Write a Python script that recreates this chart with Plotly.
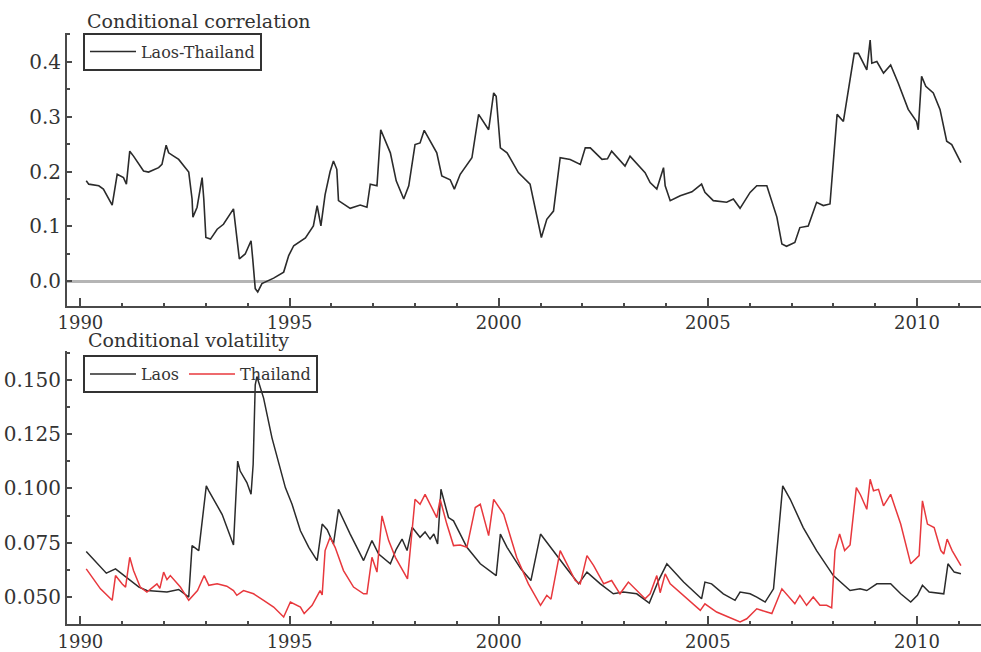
import plotly.graph_objects as go

# ---------------- data ----------------
corr_t = [1990.14, 1990.2, 1990.44, 1990.55, 1990.76, 1990.84, 1990.88, 1991.03, 1991.1, 1991.18,
          1991.27, 1991.51, 1991.63, 1991.87, 1991.95, 1992.05, 1992.11, 1992.23, 1992.35, 1992.59,
          1992.67, 1992.69, 1992.79, 1992.91, 1992.95, 1993.0, 1993.11, 1993.27, 1993.42, 1993.66,
          1993.76, 1993.8, 1993.94, 1994.08, 1994.12, 1994.18, 1994.24, 1994.34, 1994.62, 1994.86,
          1994.98, 1995.1, 1995.38, 1995.57, 1995.66, 1995.75, 1995.85, 1995.97, 1996.05, 1996.13,
          1996.17, 1996.45, 1996.69, 1996.85, 1996.93, 1997.09, 1997.18, 1997.41, 1997.55, 1997.73,
          1997.85, 1998.0, 1998.12, 1998.22, 1998.52, 1998.64, 1998.84, 1998.94, 1999.08, 1999.36,
          1999.52, 1999.76, 1999.88, 1999.94, 2000.04, 2000.2, 2000.47, 2000.75, 2001.02, 2001.15,
          2001.31, 2001.47, 2001.71, 2001.95, 2002.07, 2002.19, 2002.47, 2002.6, 2002.7, 2003.02,
          2003.14, 2003.5, 2003.62, 2003.78, 2003.94, 2003.98, 2004.1, 2004.34, 2004.62, 2004.85,
          2004.93, 2005.13, 2005.45, 2005.61, 2005.77, 2006.01, 2006.17, 2006.41, 2006.65, 2006.77,
          2006.88, 2007.08, 2007.2, 2007.4, 2007.6, 2007.76, 2007.92, 2007.98, 2008.09, 2008.24,
          2008.5, 2008.6, 2008.72, 2008.8, 2008.88, 2008.92, 2009.04, 2009.2, 2009.37, 2009.55,
          2009.79, 2009.99, 2010.03, 2010.11, 2010.21, 2010.39, 2010.55, 2010.71, 2010.83, 2011.05]
corr_laos_thailand = [0.183, 0.177, 0.174, 0.168, 0.139, 0.174, 0.195, 0.189, 0.177, 0.237,
                      0.228, 0.201, 0.199, 0.207, 0.213, 0.248, 0.234, 0.228, 0.222, 0.199,
                      0.150, 0.117, 0.135, 0.189, 0.150, 0.080, 0.077, 0.095, 0.104, 0.132,
                      0.065, 0.041, 0.050, 0.074, 0.041, -0.013, -0.019, -0.004, 0.006, 0.017,
                      0.047, 0.065, 0.079, 0.101, 0.138, 0.101, 0.158, 0.200, 0.219, 0.204,
                      0.147, 0.133, 0.139, 0.135, 0.177, 0.174, 0.276, 0.234, 0.183, 0.150,
                      0.174, 0.249, 0.252, 0.275, 0.234, 0.192, 0.185, 0.168, 0.195, 0.225,
                      0.304, 0.276, 0.343, 0.337, 0.243, 0.234, 0.198, 0.177, 0.080, 0.113,
                      0.128, 0.225, 0.222, 0.213, 0.243, 0.243, 0.222, 0.223, 0.237, 0.210,
                      0.228, 0.198, 0.180, 0.168, 0.207, 0.174, 0.147, 0.156, 0.163, 0.177,
                      0.162, 0.147, 0.144, 0.150, 0.133, 0.162, 0.174, 0.174, 0.117, 0.068,
                      0.064, 0.071, 0.098, 0.101, 0.144, 0.138, 0.141, 0.198, 0.304, 0.291,
                      0.415, 0.415, 0.397, 0.385, 0.439, 0.397, 0.400, 0.379, 0.394, 0.361,
                      0.313, 0.291, 0.276, 0.373, 0.355, 0.343, 0.313, 0.255, 0.249, 0.216]

laos_t = [1990.14, 1990.62, 1990.84, 1991.11, 1991.4, 1991.59, 1992.07, 1992.35, 1992.59, 1992.67,
          1992.83, 1993.01, 1993.07, 1993.39, 1993.66, 1993.76, 1993.82, 1993.98, 1994.08, 1994.13,
          1994.18, 1994.22, 1994.38, 1994.58, 1994.9, 1995.06, 1995.26, 1995.46, 1995.66, 1995.78,
          1995.9, 1996.05, 1996.17, 1996.45, 1996.77, 1996.97, 1997.13, 1997.41, 1997.55, 1997.69,
          1997.81, 1997.93, 1998.12, 1998.24, 1998.36, 1998.45, 1998.54, 1998.62, 1998.8, 1998.92,
          1999.24, 1999.56, 1999.94, 2000.04, 2000.2, 2000.53, 2000.77, 2001.0, 2001.31, 2001.63,
          2001.91, 2002.11, 2002.43, 2002.74, 2002.98, 2003.3, 2003.6, 2003.82, 2004.02, 2004.42,
          2004.85, 2004.93, 2005.09, 2005.37, 2005.65, 2005.77, 2006.01, 2006.17, 2006.37, 2006.57,
          2006.79, 2006.97, 2007.28, 2007.6, 2008.0, 2008.4, 2008.64, 2008.8, 2009.04, 2009.37,
          2009.61, 2009.85, 2010.01, 2010.13, 2010.29, 2010.64, 2010.74, 2010.89, 2011.05]
vol_laos = [0.0710, 0.0610, 0.0630, 0.0590, 0.0546, 0.0530, 0.0523, 0.0535, 0.0500, 0.0737,
            0.0714, 0.1012, 0.0989, 0.0880, 0.0740, 0.1126, 0.1080, 0.1027, 0.0973, 0.1110,
            0.1477, 0.1515, 0.1416, 0.1233, 0.1004, 0.0927, 0.0805, 0.0729, 0.0668, 0.0836,
            0.0810, 0.0744, 0.0904, 0.0790, 0.0668, 0.0760, 0.0698, 0.0653, 0.0720, 0.0767,
            0.0714, 0.0821, 0.0775, 0.0800, 0.0767, 0.0790, 0.0744, 0.0996, 0.0866, 0.0851,
            0.0729, 0.0653, 0.0599, 0.0790, 0.0729, 0.0630, 0.0576, 0.0790, 0.0714, 0.0630,
            0.0561, 0.0615, 0.0561, 0.0515, 0.0523, 0.0515, 0.0472, 0.0576, 0.0653, 0.0569,
            0.0492, 0.0569, 0.0561, 0.0515, 0.0485, 0.0523, 0.0515, 0.0500, 0.0477, 0.0538,
            0.1012, 0.0950, 0.0820, 0.0714, 0.0599, 0.0530, 0.0538, 0.0530, 0.0561, 0.0561,
            0.0515, 0.0477, 0.0508, 0.0554, 0.0523, 0.0515, 0.0653, 0.0615, 0.0607]

thai_t = [1990.14, 1990.48, 1990.76, 1990.84, 1991.0, 1991.08, 1991.18, 1991.27, 1991.43, 1991.59,
          1991.83, 1991.9, 1991.99, 1992.07, 1992.15, 1992.39, 1992.59, 1992.8, 1992.96, 1993.07,
          1993.27, 1993.5, 1993.66, 1993.74, 1993.9, 1994.14, 1994.38, 1994.62, 1994.86, 1995.02,
          1995.26, 1995.35, 1995.54, 1995.73, 1995.78, 1995.85, 1995.97, 1996.09, 1996.29, 1996.53,
          1996.77, 1996.85, 1996.97, 1997.09, 1997.21, 1997.37, 1997.53, 1997.82, 1998.0, 1998.12,
          1998.24, 1998.36, 1998.52, 1998.6, 1998.76, 1998.92, 1999.08, 1999.24, 1999.44, 1999.56,
          1999.76, 1999.88, 2000.12, 2000.43, 2000.71, 2001.0, 2001.15, 2001.25, 2001.47, 2001.63,
          2001.83, 2001.95, 2002.11, 2002.27, 2002.51, 2002.7, 2002.9, 2003.1, 2003.3, 2003.5,
          2003.62, 2003.78, 2003.86, 2003.98, 2004.1, 2004.42, 2004.82, 2004.93, 2005.21, 2005.49,
          2005.77, 2005.93, 2006.17, 2006.41, 2006.53, 2006.77, 2006.9, 2007.08, 2007.2, 2007.36,
          2007.52, 2007.68, 2007.84, 2007.96, 2008.04, 2008.15, 2008.27, 2008.4, 2008.55, 2008.65,
          2008.8, 2008.88, 2008.96, 2009.08, 2009.2, 2009.37, 2009.61, 2009.85, 2010.05, 2010.13,
          2010.25, 2010.41, 2010.57, 2010.64, 2010.72, 2010.84, 2011.05]
vol_thailand = [0.0630, 0.0538, 0.0485, 0.0599, 0.0560, 0.0546, 0.0683, 0.0622, 0.0546, 0.0523,
                0.0561, 0.0540, 0.0615, 0.0580, 0.0599, 0.0546, 0.0485, 0.0530, 0.0599, 0.0554,
                0.0561, 0.0550, 0.0530, 0.0508, 0.0530, 0.0515, 0.0485, 0.0454, 0.0408, 0.0477,
                0.0454, 0.0424, 0.0462, 0.0530, 0.0510, 0.0714, 0.0775, 0.0729, 0.0622, 0.0546,
                0.0515, 0.0515, 0.0683, 0.0615, 0.0874, 0.0760, 0.0683, 0.0584, 0.0950, 0.0927,
                0.0973, 0.0927, 0.0866, 0.0950, 0.0836, 0.0737, 0.0740, 0.0729, 0.0912, 0.0927,
                0.0783, 0.0950, 0.0881, 0.0683, 0.0561, 0.0462, 0.0508, 0.0490, 0.0714, 0.0653,
                0.0576, 0.0561, 0.0691, 0.0645, 0.0561, 0.0576, 0.0515, 0.0569, 0.0530, 0.0492,
                0.0515, 0.0599, 0.0520, 0.0607, 0.0561, 0.0508, 0.0439, 0.0469, 0.0431, 0.0408,
                0.0385, 0.0400, 0.0446, 0.0431, 0.0424, 0.0538, 0.0510, 0.0469, 0.0508, 0.0462,
                0.0500, 0.0462, 0.0462, 0.0450, 0.0714, 0.0790, 0.0714, 0.0740, 0.1004, 0.0970,
                0.0904, 0.1042, 0.0989, 0.0996, 0.0920, 0.0973, 0.0836, 0.0653, 0.0691, 0.0943,
                0.0836, 0.0820, 0.0714, 0.0698, 0.0767, 0.0714, 0.0645]

x_tick_vals = [1990, 1995, 2000, 2005, 2010]
x_tick_text = ["1990", "1995", "2000", "2005", "2010"]
corr_tick_vals = [0.0, 0.1, 0.2, 0.3, 0.4]
corr_tick_text = ["0.0", "0.1", "0.2", "0.3", "0.4"]
vol_tick_vals = [0.050, 0.075, 0.100, 0.125, 0.150]
vol_tick_text = ["0.050", "0.075", "0.100", "0.125", "0.150"]

# ---------------- figure ----------------
FONT = "DejaVu Serif"
AX = "#4a4a4a"
TXT = "#333333"
LINE_BLACK = "#2b2b2b"
LINE_RED = "#e8383d"

fig = go.Figure()
fig.add_trace(go.Scatter(x=corr_t, y=corr_laos_thailand, mode="lines", name="Laos-Thailand",
                         line=dict(color=LINE_BLACK, width=1.6), xaxis="x", yaxis="y",
                         legend="legend"))
fig.add_trace(go.Scatter(x=laos_t, y=vol_laos, mode="lines", name="Laos",
                         line=dict(color=LINE_BLACK, width=1.5), xaxis="x2", yaxis="y2",
                         legend="legend2"))
fig.add_trace(go.Scatter(x=thai_t, y=vol_thailand, mode="lines", name="Thailand",
                         line=dict(color=LINE_RED, width=1.5), xaxis="x2", yaxis="y2",
                         legend="legend2"))

xcommon = dict(range=[1989.68, 2011.53], tickvals=x_tick_vals, ticktext=x_tick_text,
               ticks="inside", ticklen=8, tickwidth=1.5, tickcolor=AX,
               minor=dict(dtick=1, tick0=1990, ticks="inside", ticklen=3, tickcolor=AX),
               showline=True, linecolor=AX, linewidth=2, showgrid=False, zeroline=False,
               tickfont=dict(family=FONT, size=18, color=TXT))
ycommon = dict(ticks="inside", ticklen=5, tickwidth=1.5, tickcolor=AX,
               showline=True, linecolor=AX, linewidth=2, showgrid=False,
               tickfont=dict(family=FONT, size=20, color=TXT))

fig.update_layout(
    width=981, height=652,
    margin=dict(l=67, r=0, t=33, b=25),
    paper_bgcolor="white", plot_bgcolor="white",
    showlegend=True,
    xaxis=dict(**xcommon, anchor="y", domain=[0, 1]),
    xaxis2=dict(**xcommon, anchor="y2", domain=[0, 1]),
    yaxis=dict(**ycommon, domain=[0.5387, 1.0], range=[-0.044, 0.452],
               tickvals=corr_tick_vals, ticktext=corr_tick_text,
               minor=dict(dtick=0.05, tick0=0, ticks="inside", ticklen=3, tickcolor=AX),
               zeroline=True, zerolinecolor="#b5b5b5", zerolinewidth=3, anchor="x"),
    yaxis2=dict(**ycommon, domain=[0.0, 0.4613], range=[0.0376, 0.1631],
                tickvals=vol_tick_vals, ticktext=vol_tick_text,
                minor=dict(dtick=0.0125, tick0=0.05, ticks="inside", ticklen=3, tickcolor=AX),
                zeroline=False, anchor="x2"),
    legend=dict(x=0.0175, y=1.0007, xanchor="left", yanchor="top",
                bgcolor="rgba(0,0,0,0)", bordercolor=TXT, borderwidth=2,
                font=dict(family=FONT, size=16, color=TXT),
                tracegroupgap=0, itemwidth=46),
    legend2=dict(x=0.0175, y=0.455, xanchor="left", yanchor="top", orientation="h",
                 bgcolor="rgba(0,0,0,0)", bordercolor=TXT, borderwidth=2,
                 font=dict(family=FONT, size=16, color=TXT), itemwidth=46),
    annotations=[
        dict(text="Conditional correlation", xref="paper", yref="paper",
             x=0.0197, y=(627 - 21) / 594, xanchor="left", yanchor="middle", showarrow=False,
             font=dict(family=FONT, size=19, color=TXT)),
        dict(text="Conditional volatility", xref="paper", yref="paper",
             x=0.0208, y=(627 - 342) / 594, xanchor="left", yanchor="middle", showarrow=False,
             font=dict(family=FONT, size=19, color=TXT)),
    ],
)

fig.write_html("out.html")
